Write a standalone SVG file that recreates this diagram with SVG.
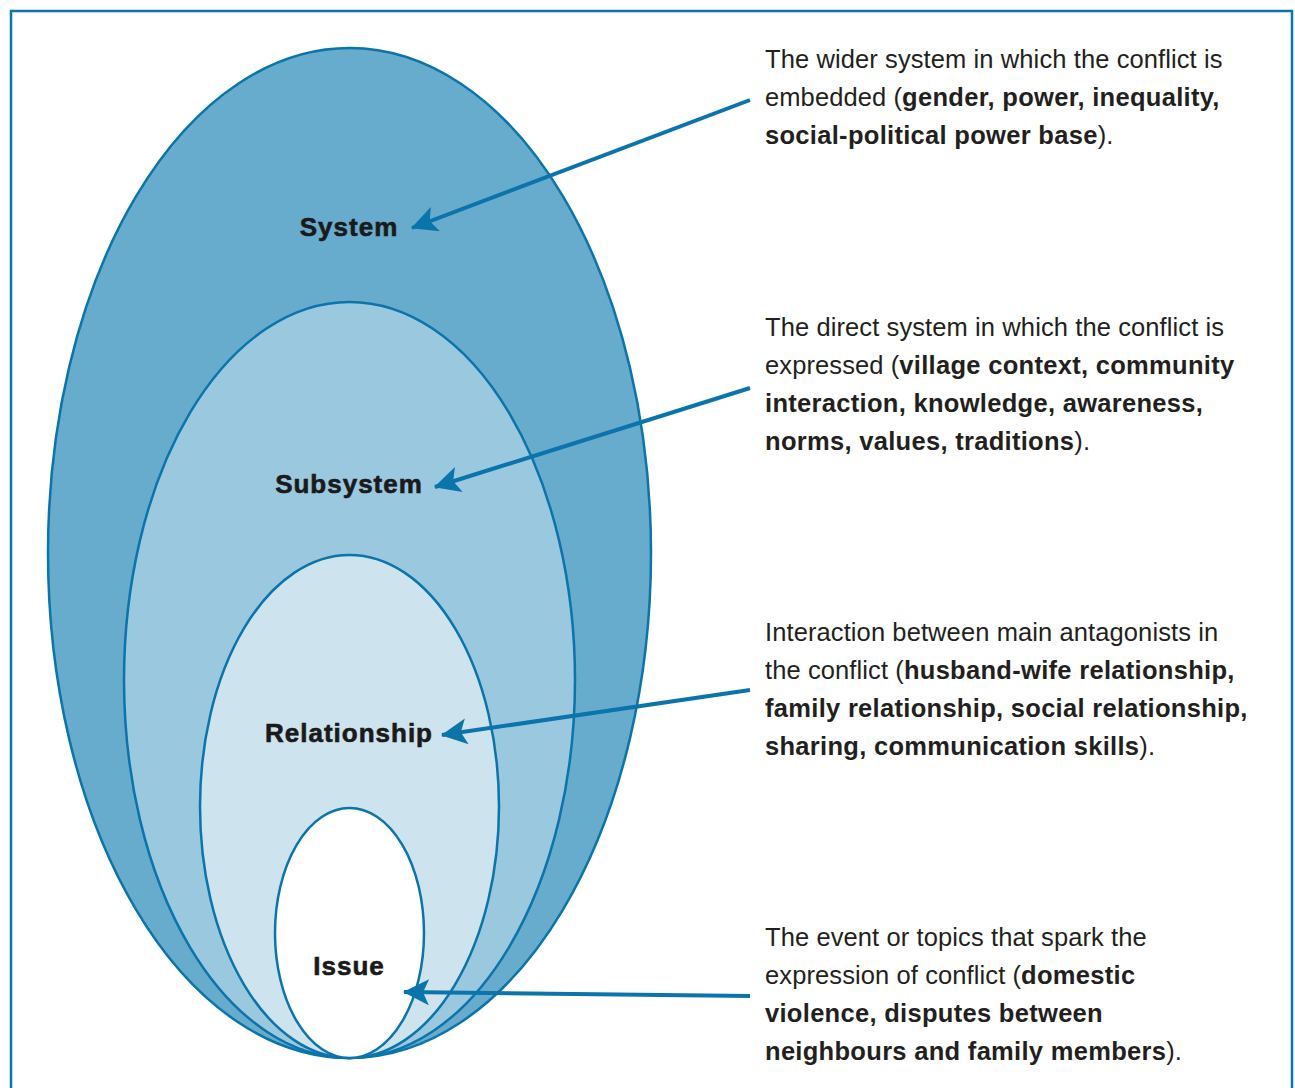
<svg xmlns="http://www.w3.org/2000/svg" width="1295" height="1088" viewBox="0 0 1295 1088">
<style>
.ell{stroke:#0a74ab;stroke-width:2.5}
.lbl{font-family:"Liberation Sans",Arial,sans-serif;font-weight:bold;font-size:26px;letter-spacing:1px;fill:#1a1a1a;stroke:#1a1a1a;stroke-width:0.6;text-anchor:middle}
.desc{font-family:"Liberation Sans",Arial,sans-serif;font-size:25.5px;letter-spacing:0.1px;fill:#231f20}
.desc tspan.b{font-weight:bold;letter-spacing:0.3px}
.conn{stroke:#0a74ab;stroke-width:4;fill:none}
</style>
<defs>
<marker id="ah" markerUnits="userSpaceOnUse" markerWidth="30" markerHeight="30" refX="27" refY="13" orient="auto">
<path d="M28,13 L2,0 L8,13 L2,26 Z" fill="#0a74ab"/>
</marker>
</defs>
<rect x="11" y="11" width="1281" height="1090" fill="#fff" stroke="#0a74ab" stroke-width="2.5"/>
<g id="system"><ellipse class="ell" cx="349.5" cy="553" rx="301.5" ry="505" fill="#67abcd"/><text class="lbl" x="349" y="236">System</text></g>
<g id="subsystem"><ellipse class="ell" cx="349.5" cy="680" rx="225.5" ry="378" fill="#9ac8df"/><text class="lbl" x="349" y="493">Subsystem</text></g>
<g id="relationship"><ellipse class="ell" cx="349.5" cy="806.5" rx="149.5" ry="251.5" fill="#cde3ee"/><text class="lbl" x="349" y="742">Relationship</text></g>
<g id="issue"><ellipse class="ell" cx="349.5" cy="933" rx="74.5" ry="125" fill="#fff"/><text class="lbl" x="349" y="975">Issue</text></g>
<g id="connectors">
<line class="conn" x1="750" y1="100" x2="412" y2="228" marker-end="url(#ah)"/>
<line class="conn" x1="750" y1="388" x2="435" y2="487" marker-end="url(#ah)"/>
<line class="conn" x1="750" y1="690" x2="442" y2="735" marker-end="url(#ah)"/>
<line class="conn" x1="750" y1="996" x2="404" y2="992" marker-end="url(#ah)"/>
</g>
<g id="desc-system">
<text class="desc" x="765" y="68">The wider system in which the conflict is</text>
<text class="desc" x="765" y="106">embedded (<tspan class="b">gender, power, inequality,</tspan></text>
<text class="desc" x="765" y="144"><tspan class="b">social-political power base</tspan>).</text>
</g>
<g id="desc-subsystem">
<text class="desc" x="765" y="336">The direct system in which the conflict is</text>
<text class="desc" x="765" y="374">expressed (<tspan class="b">village context, community</tspan></text>
<text class="desc" x="765" y="412"><tspan class="b">interaction, knowledge, awareness,</tspan></text>
<text class="desc" x="765" y="450"><tspan class="b">norms, values, traditions</tspan>).</text>
</g>
<g id="desc-relationship">
<text class="desc" x="765" y="641">Interaction between main antagonists in</text>
<text class="desc" x="765" y="679">the conflict (<tspan class="b">husband-wife relationship,</tspan></text>
<text class="desc" x="765" y="717"><tspan class="b">family relationship, social relationship,</tspan></text>
<text class="desc" x="765" y="755"><tspan class="b">sharing, communication skills</tspan>).</text>
</g>
<g id="desc-issue">
<text class="desc" x="765" y="946">The event or topics that spark the</text>
<text class="desc" x="765" y="984">expression of conflict (<tspan class="b">domestic</tspan></text>
<text class="desc" x="765" y="1022"><tspan class="b">violence, disputes between</tspan></text>
<text class="desc" x="765" y="1060"><tspan class="b">neighbours and family members</tspan>).</text>
</g>
</svg>
